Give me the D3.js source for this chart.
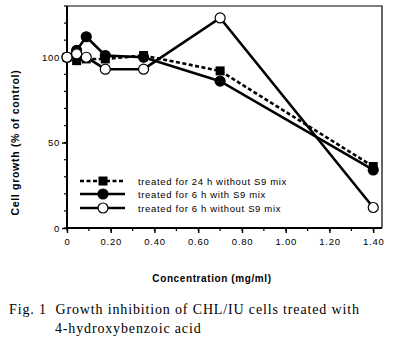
<!DOCTYPE html>
<html>
<head>
<meta charset="utf-8">
<script src="https://cdn.jsdelivr.net/npm/d3@7"></script>
<style>
  body { margin: 0; background: #fff; }
  svg { display: block; }
</style>
</head>
<body>
<svg></svg>
<script>
// concentrations (mg/ml) and cell growth (% of control) per treatment
var conc = [0, 0.044, 0.088, 0.175, 0.35, 0.70, 1.40];
var growth24NoS9 = [100, 98, 99, 99, 101, 92, 36];
var growth6WithS9 = [100, 104, 112, 101, 100, 86, 34];
var growth6NoS9 = [100, 102, 100, 93, 93, 123, 12];

var seriesNames = ["treated for 24 h without S9 mix", "treated for 6 h with S9 mix", "treated for 6 h without S9 mix"];
var xTicks = [0, 0.2, 0.4, 0.6, 0.8, 1.0, 1.2, 1.4];
var yTicks = [0, 50, 100];

var series = [
    { name: seriesNames[0], values: growth24NoS9, marker: "square", dash: "4,2.5" },
    { name: seriesNames[1], values: growth6WithS9, marker: "dot", dash: null },
    { name: seriesNames[2], values: growth6NoS9, marker: "open", dash: null }
];

const svgWidth = 393, svgHeight = 341;

var svg = d3.select("svg")
    .attr("width", svgWidth)
    .attr("height", svgHeight);

var x = d3.scaleLinear().domain([0, 1.44]).range([67, 382]);
var y = d3.scaleLinear().domain([0, 130]).range([228, 6]);

// frame top / right
svg.append("path")
    .attr("d", "M" + x(0) + "," + y(130) + "H" + x(1.44) + "V" + y(0))
    .attr("fill", "none")
    .attr("stroke", "#000")
    .attr("stroke-width", 1.2);

// minor ticks
svg.append("g").selectAll("line")
    .data(d3.range(0, 131, 10))
    .join("line")
    .attr("x1", x(0) - 3).attr("x2", x(0))
    .attr("y1", d => y(d)).attr("y2", d => y(d))
    .attr("stroke", "#000").attr("stroke-width", 1.2);

svg.append("g").selectAll("line")
    .data(d3.range(0, 15).map(i => i / 10))
    .join("line")
    .attr("x1", d => x(d)).attr("x2", d => x(d))
    .attr("y1", y(0)).attr("y2", y(0) + 3)
    .attr("stroke", "#000").attr("stroke-width", 1.2);

var yAxis = d3.axisLeft(y).tickValues(yTicks).tickSize(5).tickPadding(2);
var xAxis = d3.axisBottom(x).tickValues(xTicks).tickSize(5).tickPadding(5)
    .tickFormat(d => d === 0 ? "0" : d3.format(".2f")(d));

var gy = svg.append("g").attr("transform", "translate(" + x(0) + ",0)").call(yAxis);
var gx = svg.append("g").attr("transform", "translate(0," + y(0) + ")").call(xAxis);

// keep the axis lines within the data range, no end caps
gy.select(".domain").attr("d", "M0," + y(130) + "V" + y(0));
gx.select(".domain").attr("d", "M" + x(0) + ",0H" + x(1.44));

svg.selectAll(".domain").attr("stroke-width", 2);
svg.selectAll(".tick line").attr("stroke-width", 1.4);
svg.selectAll(".tick text")
    .attr("font-family", "Liberation Sans, Arial, sans-serif")
    .attr("font-size", 9.5)
    .attr("letter-spacing", 0.7)
    .attr("fill", "#000");

// axis titles
svg.append("text")
    .attr("transform", "translate(19," + y(50) + ") rotate(-90)")
    .attr("text-anchor", "middle")
    .attr("font-family", "Liberation Sans, Arial, sans-serif")
    .attr("font-weight", "bold")
    .attr("font-size", 10.5)
    .attr("letter-spacing", 0.7)
    .text("Cell growth (% of control)");

svg.append("text")
    .attr("x", 212).attr("y", 282)
    .attr("text-anchor", "middle")
    .attr("font-family", "Liberation Sans, Arial, sans-serif")
    .attr("font-weight", "bold")
    .attr("font-size", 10)
    .attr("letter-spacing", 0.6)
    .text("Concentration (mg/ml)");

var line = d3.line()
    .x(d => x(d[0]))
    .y(d => y(d[1]));

function drawMarker(g, m, cx, cy) {
    if (m === "square") {
        g.append("rect")
            .attr("x", cx - 4.5).attr("y", cy - 4.5)
            .attr("width", 9).attr("height", 9)
            .attr("fill", "#000");
    } else {
        g.append("circle")
            .attr("cx", cx).attr("cy", cy).attr("r", 5)
            .attr("fill", m === "open" ? "#fff" : "#000")
            .attr("stroke", "#000").attr("stroke-width", 1.2);
    }
}

series.forEach(function(s) {
    var pts = conc.map((c, i) => [c, s.values[i]]);
    var g = svg.append("g");
    g.append("path")
        .attr("d", line(pts))
        .attr("fill", "none")
        .attr("stroke", "#000")
        .attr("stroke-width", 2.6)
        .attr("stroke-dasharray", s.dash);
    pts.forEach(p => drawMarker(g, s.marker, x(p[0]), y(p[1])));
});

// legend
var legendY = [181, 194, 208];
series.forEach(function(s, i) {
    var g = svg.append("g");
    g.append("line")
        .attr("x1", 80).attr("x2", 125)
        .attr("y1", legendY[i]).attr("y2", legendY[i])
        .attr("stroke", "#000")
        .attr("stroke-width", 2.6)
        .attr("stroke-dasharray", s.dash);
    drawMarker(g, s.marker, 103, legendY[i]);
    g.append("text")
        .attr("x", 138).attr("y", legendY[i] + 3.5)
        .attr("font-family", "Liberation Sans, Arial, sans-serif")
        .attr("font-size", 9.5)
        .attr("letter-spacing", 0.65)
        .text(s.name);
});

// figure caption
var caption = svg.append("text")
    .attr("font-family", "Liberation Serif, Times New Roman, serif")
    .attr("font-size", 14)
    .attr("letter-spacing", 0.85)
    .style("white-space", "pre");
caption.append("tspan").attr("x", 9).attr("y", 314)
    .text("Fig. 1  Growth inhibition of CHL/IU cells treated with");
caption.append("tspan").attr("x", 55).attr("y", 333)
    .text("4-hydroxybenzoic acid");
</script>
</body>
</html>
